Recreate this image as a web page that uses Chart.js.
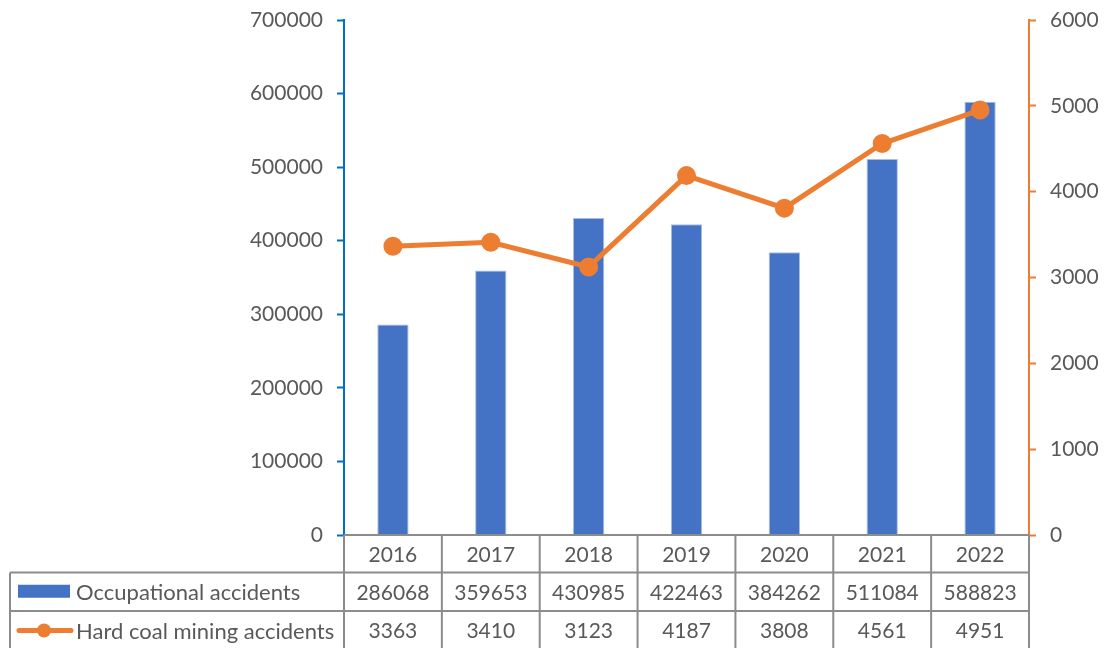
<!DOCTYPE html>
<html>
<head>
<meta charset="utf-8">
<script src="https://cdn.jsdelivr.net/npm/chart.js@4"></script>
<style>
  html, body { margin: 0; padding: 0; background: #ffffff; }
  #wrap { width: 1104px; height: 648px; position: relative; }
</style>
</head>
<body>
<div id="wrap"><canvas id="c" width="1104" height="648"></canvas></div>
<script>
// Years shown along the category axis / data table header
const years = ['2016', '2017', '2018', '2019', '2020', '2021', '2022'];
// Occupational accidents (left axis)
const occupational = [286068, 359653, 430985, 422463, 384262, 511084, 588823];
// Hard coal mining accidents (right axis)
const hardCoal = [3363, 3410, 3123, 4187, 3808, 4561, 4951];

const seriesNames = ['Occupational accidents', 'Hard coal mining accidents'];
const BLUE = '#4472C4';
const ORANGE = '#ED7D31';
const AXIS_BLUE = '#0070C0';
const GRID = '#8C8C8C';
const TEXT = '#595959';
const FONT = 'Lato, "Open Sans", sans-serif';
const FONT_SIZE = 21;
const LEGEND_SIZE = 22;

// Excel-style data table drawn under the plot area
const dataTablePlugin = {
  id: 'dataTable',
  afterDraw(chart) {
    const ctx = chart.ctx;
    const area = chart.chartArea;
    const x = chart.scales.x;
    const n = years.length;
    const colW = (area.right - area.left) / n;
    const top = area.bottom;
    const rowH = 38.5;
    const r1 = top + rowH - 1;
    const r2 = r1 + rowH;
    const bottom = 648;
    const tableLeft = 10;

    ctx.save();
    ctx.strokeStyle = GRID;
    ctx.lineWidth = 2;
    ctx.beginPath();
    // horizontal lines
    ctx.moveTo(area.left, top); ctx.lineTo(area.right, top);
    ctx.moveTo(tableLeft, r1); ctx.lineTo(area.right, r1);
    ctx.moveTo(tableLeft, r2); ctx.lineTo(area.right, r2);
    // vertical lines
    for (let i = 0; i <= n; i++) {
      const vx = area.left + i * colW;
      ctx.moveTo(vx, top); ctx.lineTo(vx, bottom);
    }
    ctx.moveTo(tableLeft, r1); ctx.lineTo(tableLeft, bottom);
    ctx.stroke();

    ctx.fillStyle = TEXT;
    ctx.font = FONT_SIZE + 'px ' + FONT;
    ctx.textAlign = 'center';
    ctx.textBaseline = 'middle';
    for (let i = 0; i < n; i++) {
      const cx = x.getPixelForValue(i);
      ctx.fillText(years[i], cx, (top + r1) / 2 + 1);
      ctx.fillText(String(occupational[i]), cx, (r1 + r2) / 2 + 1);
      ctx.fillText(String(hardCoal[i]), cx, (r2 + bottom) / 2 + 2);
    }

    // legend keys
    const y1 = (r1 + r2) / 2;
    const y2 = (r2 + bottom) / 2 + 1;
    ctx.fillStyle = BLUE;
    ctx.fillRect(18, y1 - 7, 52, 13);
    ctx.strokeStyle = ORANGE;
    ctx.lineWidth = 5;
    ctx.lineCap = 'round';
    ctx.beginPath();
    ctx.moveTo(19, y2); ctx.lineTo(71, y2);
    ctx.stroke();
    ctx.fillStyle = ORANGE;
    ctx.beginPath();
    ctx.arc(44, y2, 7, 0, Math.PI * 2);
    ctx.fill();

    ctx.fillStyle = TEXT;
    ctx.font = LEGEND_SIZE + 'px ' + FONT;
    ctx.textAlign = 'left';
    ctx.fillText(seriesNames[0], 76, y1 + 1);
    ctx.fillText(seriesNames[1], 76, y2 + 1);
    ctx.restore();
  }
};

const plainTick = (v) => String(v);

new Chart(document.getElementById('c'), {
  data: {
    labels: years,
    datasets: [
      {
        type: 'line',
        label: seriesNames[1],
        data: hardCoal,
        yAxisID: 'y1',
        borderColor: ORANGE,
        backgroundColor: ORANGE,
        borderWidth: 5,
        pointRadius: 7,
        pointHoverRadius: 7,
        pointBackgroundColor: ORANGE,
        pointBorderColor: ORANGE,
        tension: 0,
        order: 0
      },
      {
        type: 'bar',
        label: seriesNames[0],
        data: occupational,
        yAxisID: 'y',
        backgroundColor: BLUE,
        borderColor: '#A9BDE3',
        borderWidth: 1,
        barPercentage: 0.32,
        categoryPercentage: 1,
        order: 1
      }
    ]
  },
  options: {
    responsive: false,
    animation: false,
    devicePixelRatio: 1,
    layout: { padding: { left: 0, right: 0, top: 20, bottom: 113 } },
    plugins: {
      legend: { display: false },
      tooltip: { enabled: false }
    },
    scales: {
      x: {
        display: false,
        offset: true,
        grid: { display: false }
      },
      y: {
        position: 'left',
        min: 0,
        max: 700000,
        ticks: {
          stepSize: 100000,
          color: TEXT,
          font: { family: FONT, size: FONT_SIZE },
          padding: 14,
          callback: plainTick
        },
        grid: {
          drawOnChartArea: false,
          drawTicks: true,
          tickLength: 7,
          tickColor: AXIS_BLUE,
          tickWidth: 2
        },
        border: { display: true, color: AXIS_BLUE, width: 2 },
        afterFit(scale) { scale.width = 344; scale.paddingTop = 0; scale.paddingBottom = 0; }
      },
      y1: {
        position: 'right',
        min: 0,
        max: 6000,
        ticks: {
          stepSize: 1000,
          color: TEXT,
          font: { family: FONT, size: FONT_SIZE },
          padding: 14,
          callback: plainTick
        },
        grid: {
          drawOnChartArea: false,
          drawTicks: true,
          tickLength: 7,
          tickColor: ORANGE,
          tickWidth: 2
        },
        border: { display: true, color: ORANGE, width: 2 },
        afterFit(scale) { scale.width = 75; scale.paddingTop = 0; scale.paddingBottom = 0; }
      }
    }
  },
  plugins: [dataTablePlugin]
});
</script>
</body>
</html>
